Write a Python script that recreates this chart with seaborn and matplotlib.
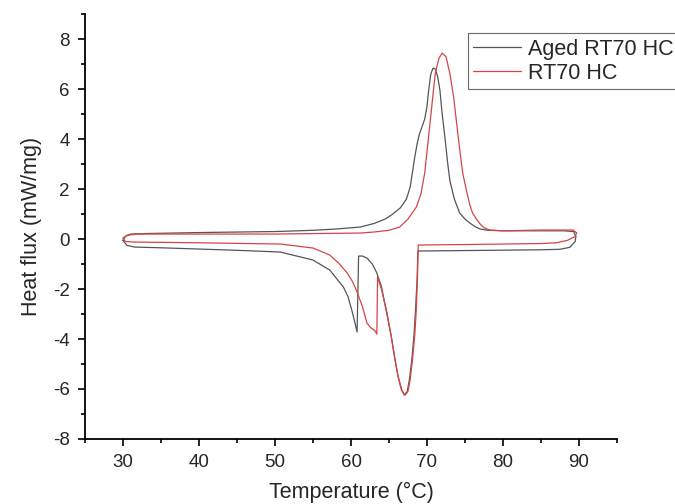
import matplotlib
matplotlib.use('Agg')
import matplotlib.pyplot as plt
import seaborn as sns
from matplotlib.ticker import MultipleLocator

# Aged RT70 HC: heating branch (left to right), then cooling branch (right to left)
aged_temp = [30.0, 30.5, 31.5, 35, 40, 45, 50.7, 55, 57.2, 59.0, 59.6, 60.1, 60.4, 60.8,
             61.0, 61.5, 62.1, 62.8, 63.4, 64.0, 64.7, 65.3, 65.8, 66.2, 66.6, 67.0,
             67.4, 67.7, 68.0, 68.3, 68.5, 68.7, 68.8,
             75, 85, 87.5, 88.8, 89.5, 89.6, 89.3, 88, 84, 80, 78, 77, 76.3, 75.6, 75.0,
             74.3, 73.6, 73.0, 72.7, 72.4, 72.0, 71.7, 71.4, 71.1, 70.8, 70.5, 70.2,
             70.0, 69.7, 69.3, 69.0, 68.7, 68.4, 68.1, 67.8, 67.3, 66.5, 65.5, 64.5,
             63, 61.2, 58, 55, 50, 40, 33, 31, 30.3, 30.0]
aged_flux = [-0.05, -0.25, -0.32, -0.35, -0.4, -0.45, -0.52, -0.84, -1.24, -1.92, -2.3, -2.84, -3.2, -3.72,
             -0.68, -0.68, -0.76, -1.0, -1.36, -1.9, -2.96, -3.9, -4.84, -5.5, -6.0, -6.24,
             -6.1, -5.6, -4.84, -3.8, -2.8, -1.6, -0.48,
             -0.46, -0.43, -0.41, -0.33, -0.1, 0.1, 0.3, 0.33, 0.33, 0.33, 0.35, 0.4, 0.5, 0.65, 0.8,
             1.04, 1.6, 2.36, 3.1, 3.96, 5.0, 5.96, 6.5, 6.8, 6.84, 6.6, 5.9,
             5.3, 4.8, 4.45, 4.2, 3.8, 3.3, 2.7, 2.1, 1.6, 1.25, 1.0, 0.8,
             0.62, 0.48, 0.4, 0.35, 0.3, 0.26, 0.22, 0.2, 0.1, -0.05]

# RT70 HC
rt70_temp = [30.0, 30.3, 31.5, 40, 50.7, 55, 57.2, 58.5, 59.5, 60.2, 60.8, 61.5, 62.1,
             62.6, 63.1, 63.4, 63.5, 64.0, 64.7, 65.3, 65.8, 66.2, 66.7, 67.1, 67.5,
             67.8, 68.1, 68.4, 68.6, 68.75, 68.85,
             75, 85, 87, 88.5, 89.5, 89.7, 89.2, 85, 80, 78.3, 77.5, 77, 76.5, 76.0,
             75.6, 75.3, 74.7, 74.3, 73.9, 73.5, 73.0, 72.5, 72.0, 71.6, 71.3, 71.1,
             70.8, 70.4, 70.0, 69.7, 69.2, 68.6, 67.5, 66.4, 65, 63, 61.2, 50, 40, 32,
             30.5, 30.0]
rt70_flux = [0.04, -0.1, -0.12, -0.15, -0.2, -0.36, -0.64, -1.0, -1.36, -1.7, -2.12, -2.7, -3.36,
             -3.55, -3.65, -3.8, -1.52, -2.0, -2.9, -3.9, -4.84, -5.5, -6.05, -6.25, -6.1,
             -5.6, -4.8, -3.8, -2.8, -1.5, -0.24,
             -0.22, -0.18, -0.15, -0.05, 0.1, 0.25, 0.36, 0.36, 0.33, 0.36, 0.45, 0.6, 0.8, 1.04,
             1.4, 1.8, 2.64, 3.6, 4.64, 5.7, 6.64, 7.3, 7.44, 7.25, 6.9, 6.64,
             5.8, 4.64, 3.5, 2.64, 1.8, 1.28, 0.8, 0.48, 0.35, 0.28, 0.24, 0.2, 0.2, 0.2,
             0.15, 0.04]

sns.set_style('ticks')
plt.rcParams['font.family'] = ['Liberation Sans', 'DejaVu Sans']
plt.rcParams['axes.unicode_minus'] = False

fig = plt.figure(figsize=(6.75, 5.04), dpi=100)
ax = fig.add_axes([0.126, 0.129, 0.788, 0.843])

sns.lineplot(x=aged_temp, y=aged_flux, sort=False, estimator=None,
             color='#555555', linewidth=0.9, label='Aged RT70 HC', ax=ax)
sns.lineplot(x=rt70_temp, y=rt70_flux, sort=False, estimator=None,
             color='#d64545', linewidth=0.9, label='RT70 HC', ax=ax)

ax.set_xlim(25, 95)
ax.set_ylim(-8, 9)
ax.xaxis.set_major_locator(MultipleLocator(10))
ax.xaxis.set_minor_locator(MultipleLocator(5))
ax.set_yticks([-8, -6, -4, -2, 0, 2, 4, 6, 8])
ax.yaxis.set_minor_locator(MultipleLocator(1))
ax.tick_params(which='major', length=5, width=1.2, labelsize=13.5, color='black', pad=6)
ax.tick_params(which='minor', length=3, width=1.2, color='black')
for s in ['top', 'right']:
    ax.spines[s].set_visible(False)
for s in ['left', 'bottom']:
    ax.spines[s].set_linewidth(1.3)
    ax.spines[s].set_color('black')

ax.set_xlabel('Temperature (°C)', fontsize=15.5, labelpad=8)
ax.set_ylabel('Heat flux (mW/mg)', fontsize=15.5, labelpad=8)

leg = ax.legend(loc='upper left', bbox_to_anchor=(0.72, 0.955), fontsize=15.5,
                frameon=True, fancybox=False, handlelength=2.2, borderaxespad=0,
                borderpad=0.25, labelspacing=0.15, handletextpad=0.35)
leg.get_frame().set_edgecolor('#444444')
leg.get_frame().set_linewidth(0.8)

plt.savefig('out.png', dpi=100)
